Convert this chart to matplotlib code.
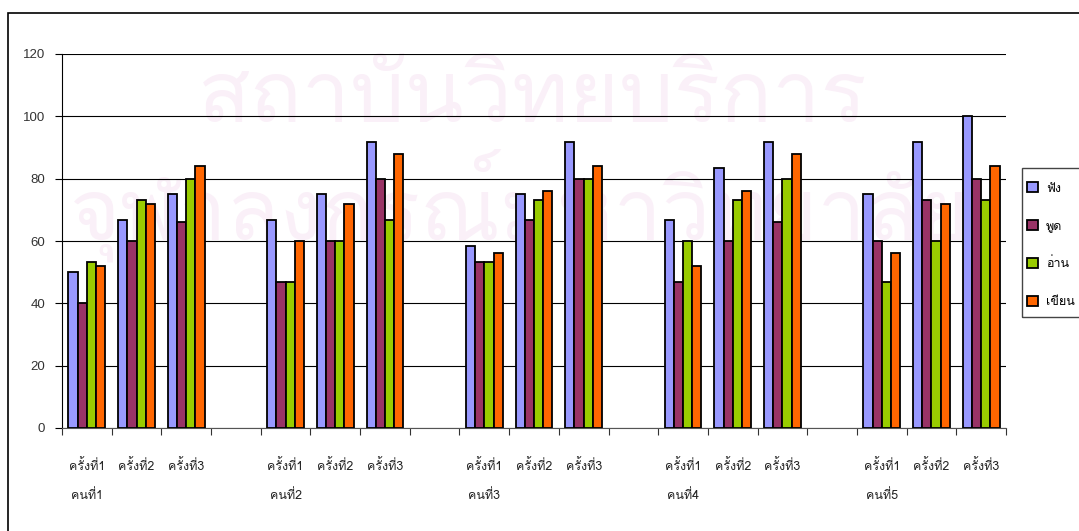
"""
plot.py
=============================
Grouped bar chart of listening / speaking / reading / writing scores
for five students over three sessions.
"""

import matplotlib
matplotlib.use('Agg')
import matplotlib.pyplot as plt
from matplotlib.patches import Rectangle
from matplotlib.transforms import blended_transform_factory

# Data
persons  = ['คนที่1', 'คนที่2', 'คนที่3', 'คนที่4', 'คนที่5']
sessions = ['ครั้งที่1', 'ครั้งที่2', 'ครั้งที่3']
series   = ['ฟัง', 'พูด', 'อ่าน', 'เขียน']

listen = [50, 66.7, 75,   66.7, 75, 91.7,   58.3, 75, 91.7,   66.7, 83.3, 91.7,   75, 91.7, 100]
speak  = [40, 60, 66,     46.7, 60, 80,     53.3, 66.7, 80,   46.7, 60, 66,       60, 73.3, 80]
read   = [53.3, 73.3, 80, 46.7, 60, 66.7,   53.3, 73.3, 80,   60, 73.3, 80,       46.7, 60, 73.3]
write  = [52, 72, 84,     60, 72, 88,       56, 76, 84,       52, 76, 88,         56, 72, 84]

yticks = [0, 20, 40, 60, 80, 100, 120]

colors = ['#9999FF', '#993366', '#99CC00', '#FF6600']

thai_font = ['Loma', 'Sarabun', 'DejaVu Sans']
num_font  = ['Liberation Sans', 'DejaVu Sans']

def Build_Categories():

	# Excel-like layout: each person has 3 sessions and a blank slot between persons
	cats = []
	for p, person in enumerate(persons):
		for s, session in enumerate(sessions):
			cats.append((person if s == 0 else '', session))
		if p < len(persons) - 1:
			cats.append(('', ''))
	return cats

def Plot_Bars():

	cats = Build_Categories()
	pos  = [i for i, c in enumerate(cats) if c[1] != '']
	n    = len(cats)

	W, H = 1079, 531
	fig = plt.figure(figsize=(W/100, H/100), dpi=100)
	ax  = fig.add_axes([62/W, 1-428/H, (1006-62)/W, (428-54)/H])

	# Watermark (behind everything)
	wm = dict(color='#FAF0F8', fontsize=62, family=thai_font, ha='center', va='center', zorder=-5)
	fig.text(533/W, 1-100/H, 'สถาบันวิทยบริการ', **wm)
	fig.text(520/W, 1-205/H, 'จุฬาลงกรณ์มหาวิทยาลัย', **wm)

	# Bars
	width = 0.74 / 4
	data  = [listen, speak, read, write]
	handles = []
	for k, vals in enumerate(data):
		xs = [p + (k - 1.5) * width for p in pos]
		b = ax.bar(xs, vals, width=width, color=colors[k], edgecolor='black', linewidth=1.3, zorder=3, label=series[k])
		handles.append(b)

	# Axes
	ax.set_xlim(-0.5, n - 0.5)
	ax.set_ylim(0, 120)
	ax.set_yticks(yticks)
	ax.set_yticklabels([str(v) for v in yticks], family=num_font, fontsize=9.5, color='#333333')
	ax.yaxis.grid(True, color='black', linewidth=0.8, zorder=1)
	ax.set_axisbelow(True)
	ax.patch.set_alpha(0)
	for s in ['top', 'right']:
		ax.spines[s].set_visible(False)
	ax.spines['left'].set_color('black')
	ax.spines['bottom'].set_color('#555555')
	ax.tick_params(axis='y', length=5, width=0.8, pad=7)
	ax.set_xticks([i - 0.5 for i in range(n + 1)])
	ax.set_xticklabels([])
	ax.tick_params(axis='x', length=5, width=0.8, color='#333333')

	# Category labels, two rows
	tr = blended_transform_factory(ax.transData, fig.transFigure)
	for i, (person, session) in enumerate(cats):
		if session:
			ax.text(i, 1-466/H, session, transform=tr, ha='center', va='center', family=thai_font, fontsize=9, color='#222222')
		if person:
			ax.text(i, 1-496/H, person, transform=tr, ha='center', va='center', family=thai_font, fontsize=9, color='#222222')

	# Legend (frame drawn separately so the padding matches)
	fig.legend(handles=handles, loc='upper left', bbox_to_anchor=(1027/W, 1-182/H), prop={'family': thai_font, 'size': 9},
		frameon=False, handlelength=0.9, handleheight=0.9, handletextpad=0.62,
		labelspacing=2.02, borderpad=0, borderaxespad=0)
	fig.patches.append(Rectangle((1021.5/W, 1-316.5/H), 80/W, 149/H, transform=fig.transFigure, fill=False, edgecolor='#444444', linewidth=1.0))

	# Outer chart border
	fig.patches.append(Rectangle((8/W, -0.1), 1.2, 1.1 - 13/H, transform=fig.transFigure, fill=False, edgecolor='black', linewidth=1.2))

	fig.savefig('out.png', dpi=100)
	plt.close()

	return

if (__name__ == '__main__'):

	Plot_Bars()
